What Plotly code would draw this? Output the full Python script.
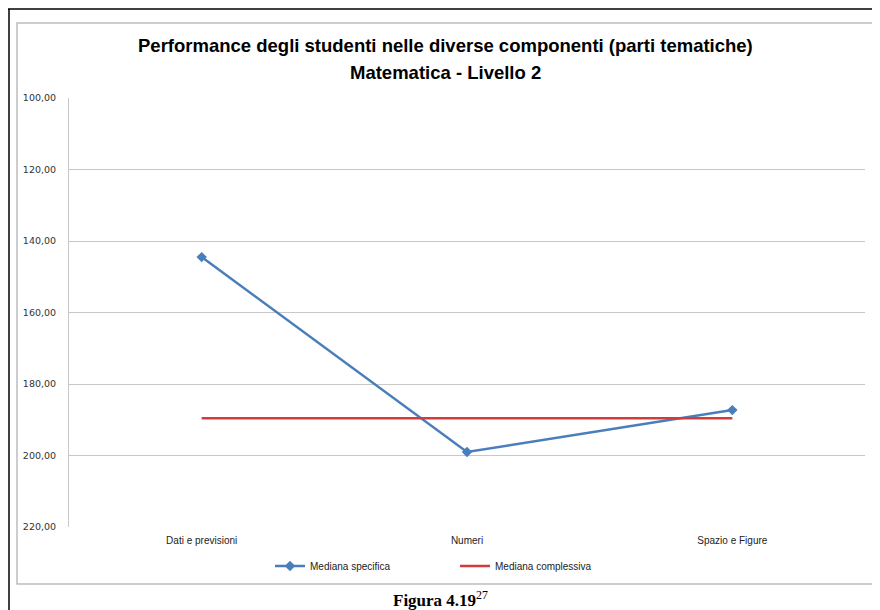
import plotly.graph_objects as go

categories = ["Dati e previsioni", "Numeri", "Spazio e Figure"]
mediana_specifica = [144.5, 199.0, 187.3]
mediana_complessiva = [189.6, 189.6, 189.6]
y_ticks = [100, 120, 140, 160, 180, 200, 220]
y_tick_labels = ["100,00", "120,00", "140,00", "160,00", "180,00", "200,00", "220,00"]

OFF = 8  # page body margin
W, H = 880 - OFF, 610 - OFF
L, R, T, B = 69 - OFF, 865 - OFF, 98 - OFF, 527 - OFF

def px(x):
    return (x - OFF - L) / (R - L)

def py(y):
    return (B - (y - OFF)) / (B - T)

fig = go.Figure()
fig.add_trace(go.Scatter(
    x=categories, y=mediana_specifica, name="Mediana specifica",
    mode="lines+markers",
    line=dict(color="#4a7ebb", width=2.5),
    marker=dict(symbol="diamond", size=8, color="#4a7ebb"),
))
fig.add_trace(go.Scatter(
    x=categories, y=mediana_complessiva, name="Mediana complessiva",
    mode="lines",
    line=dict(color="#d13b3b", width=2.5),
))

shapes = [
    dict(type="rect", xref="paper", yref="paper", x0=px(17), x1=px(877), y0=py(584), y1=py(23),
         line=dict(color="#bdbdbd", width=1.5), layer="below"),
    dict(type="line", xref="paper", yref="paper", x0=px(8), x1=px(880), y0=py(9), y1=py(9),
         line=dict(color="#000000", width=1.5)),
    dict(type="line", xref="paper", yref="paper", x0=px(9), x1=px(9), y0=py(9), y1=py(610),
         line=dict(color="#000000", width=1.5)),
]

annotations = [
    dict(text="<b>Performance degli studenti nelle diverse componenti (parti tematiche)</b>",
         xref="paper", yref="paper", x=px(445), y=py(45), showarrow=False,
         font=dict(family="Liberation Sans, Arial, sans-serif", size=18.5, color="#000000"),
         xanchor="center", yanchor="middle"),
    dict(text="<b>Matematica - Livello 2</b>",
         xref="paper", yref="paper", x=px(445), y=py(72), showarrow=False,
         font=dict(family="Liberation Sans, Arial, sans-serif", size=18.5, color="#000000"),
         xanchor="center", yanchor="middle"),
    dict(text="<b>Figura 4.19</b><sup>27</sup>",
         xref="paper", yref="paper", x=px(440), y=py(599), showarrow=False,
         font=dict(family="Liberation Serif, Times New Roman, serif", size=17, color="#000000"),
         xanchor="center", yanchor="middle"),
]

fig.update_layout(
    width=W, height=H,
    margin=dict(l=L, r=W - R, t=T, b=H - B),
    paper_bgcolor="white", plot_bgcolor="white",
    showlegend=True,
    legend=dict(orientation="h", x=px(270), y=py(566), xanchor="left", yanchor="middle",
                font=dict(family="Liberation Sans, Arial, sans-serif", size=10, color="#222"),
                entrywidth=140, entrywidthmode="pixels",
                tracegroupgap=0, bgcolor="rgba(0,0,0,0)"),
    shapes=shapes,
    annotations=annotations,
    xaxis=dict(range=[-0.5, 2.5], showgrid=False, zeroline=False,
               showline=False, ticks="", ticklabelstandoff=6,
               tickfont=dict(family="Liberation Sans, Arial, sans-serif", size=10, color="#222")),
    yaxis=dict(range=[220, 100], tickvals=y_ticks, ticktext=y_tick_labels,
               showgrid=True, gridcolor="#c8c8c8", gridwidth=1, zeroline=False,
               showline=True, linecolor="#c8c8c8", linewidth=1, ticks="",
               ticklabelstandoff=10,
               tickfont=dict(family="DejaVu Sans, sans-serif", size=9.5, color="#333")),
)

fig.write_html("out.html")
